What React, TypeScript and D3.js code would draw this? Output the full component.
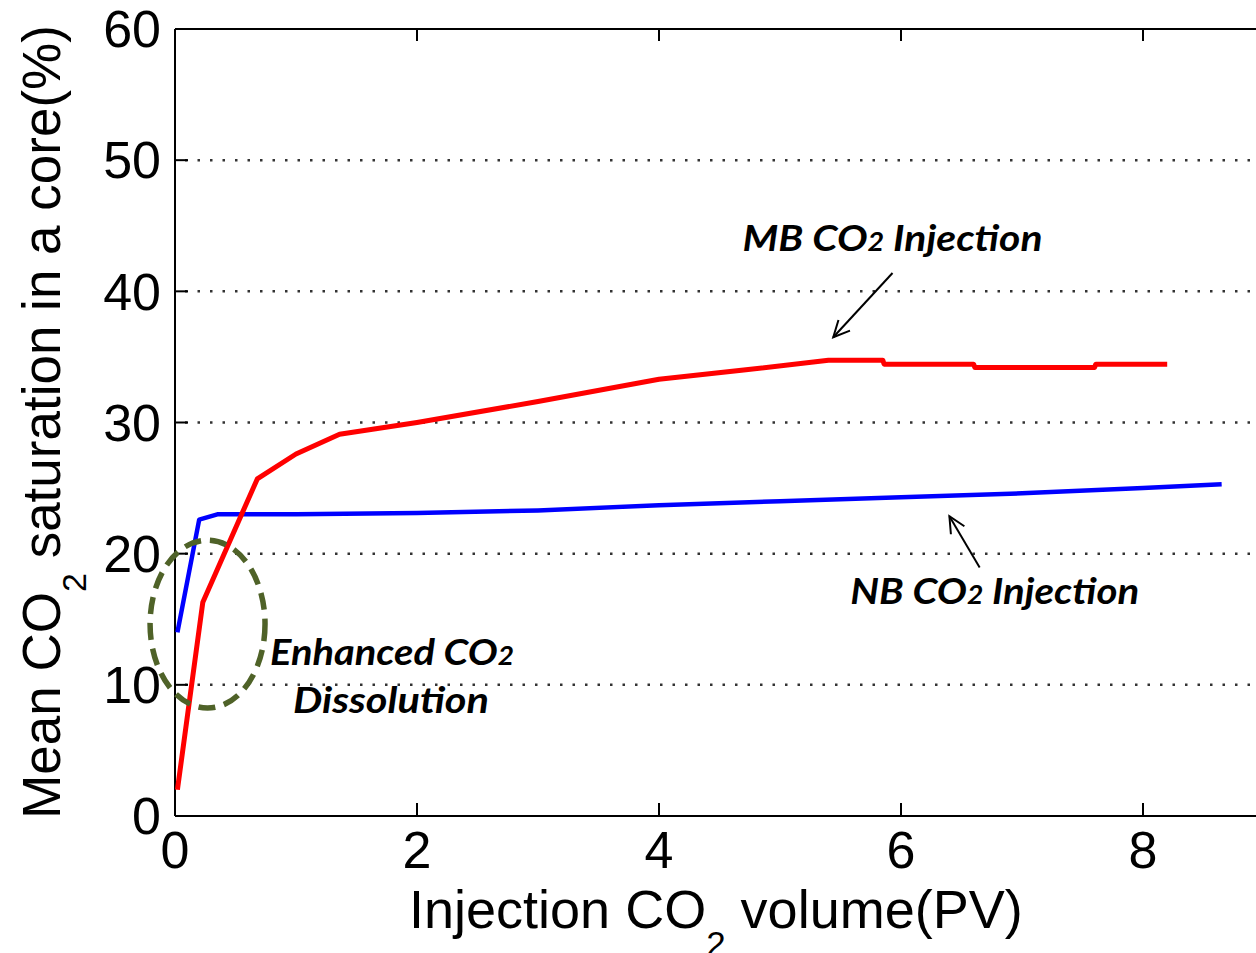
import React from "react";
import * as d3 from "d3";

// ---- data ----
const mbX = [0.02, 0.23, 0.68, 1.0, 1.36, 2.0, 3.0, 4.0, 4.7, 5.4, 5.85, 5.86, 6.6, 6.61, 7.6, 7.61, 8.2];
const mbY = [2.0, 16.3, 25.7, 27.6, 29.1, 30.0, 31.6, 33.3, 34.0, 34.75, 34.75, 34.45, 34.45, 34.2, 34.2, 34.45, 34.45];
const nbX = [0.02, 0.2, 0.35, 1.0, 2.0, 3.0, 4.0, 5.0, 6.0, 7.0, 8.0, 8.65];
const nbY = [14.0, 22.6, 23.0, 23.0, 23.1, 23.3, 23.7, 24.0, 24.3, 24.6, 25.0, 25.3];
const xTicks = [0, 2, 4, 6, 8];
const yTicks = [0, 10, 20, 30, 40, 50, 60];
const gridY = [10, 20, 30, 40, 50];

// annotations (data units)
const arrows = [
  { x1: 5.93, y1: 41.4, x2: 5.44, y2: 36.5 },
  { x1: 6.65, y1: 18.95, x2: 6.4, y2: 22.85 },
];
const labels = [
  { text: "MB CO", sub: "2", rest: " Injection", x: 4.69, y: 43.1, len: 300 },
  { text: "NB CO", sub: "2", rest: " Injection", x: 5.58, y: 16.2, len: 289 },
  { text: "Enhanced CO", sub: "2", rest: "", x: 0.785, y: 11.5, len: 244 },
  { text: "Dissolution", sub: "", rest: "", x: 0.975, y: 7.85, len: 196 },
];
const ellipse = { cx: 0.269, cy: 14.63, rx: 0.475, ry: 6.4 };

const W = 1256;
const H = 953;
const L = 175;
const T = 29;
const B = 816;

export default function App() {
  const x = d3.scaleLinear().domain([0, 10]).range([L, L + 1210]);
  const y = d3.scaleLinear().domain([0, 60]).range([B, T]);
  const line = d3
    .line<[number, number]>()
    .x((d) => x(d[0]))
    .y((d) => y(d[1]));
  const mb = mbX.map((v, i) => [v, mbY[i]] as [number, number]);
  const nb = nbX.map((v, i) => [v, nbY[i]] as [number, number]);
  const font = "'Liberation Sans', Arial, sans-serif";
  const aFont = "Lato, 'Open Sans', sans-serif";

  const arrowHead = (a: typeof arrows[0]) => {
    const X1 = x(a.x1), Y1 = y(a.y1), X2 = x(a.x2), Y2 = y(a.y2);
    const ang = Math.atan2(Y2 - Y1, X2 - X1);
    const len = 18, spread = 0.45;
    const p1 = [X2 - len * Math.cos(ang - spread), Y2 - len * Math.sin(ang - spread)];
    const p2 = [X2 - len * Math.cos(ang + spread), Y2 - len * Math.sin(ang + spread)];
    return `M${p1[0]},${p1[1]}L${X2},${Y2}L${p2[0]},${p2[1]}`;
  };

  return (
    <div style={{ position: "absolute", left: 0, top: 0 }}>
      <svg width={W} height={H} style={{ display: "block", background: "#fff" }}>
        <rect width={W} height={H} fill="#fff" />
        {/* grid */}
        {gridY.map((g) => (
          <line
            key={g}
            x1={L + 10}
            x2={W}
            y1={y(g)}
            y2={y(g)}
            stroke="#333"
            strokeWidth={2.5}
            strokeDasharray="2.5 10"
          />
        ))}
        {/* axes box */}
        <line x1={L} x2={L} y1={T} y2={B} stroke="#000" strokeWidth={2} />
        <line x1={L} x2={W} y1={B} y2={B} stroke="#000" strokeWidth={2} />
        <line x1={L} x2={W} y1={T} y2={T} stroke="#000" strokeWidth={2} />
        {/* y ticks */}
        {yTicks.map((t) => (
          <g key={t}>
            <line x1={L} x2={L + 13} y1={y(t)} y2={y(t)} stroke="#000" strokeWidth={2} />
            <text
              x={L - 14}
              y={y(t)}
              dy="0.35em"
              textAnchor="end"
              fontFamily={font}
              fontSize={52}
              fill="#000"
            >
              {t}
            </text>
          </g>
        ))}
        {/* x ticks */}
        {xTicks.map((t) => (
          <g key={t}>
            <line x1={x(t)} x2={x(t)} y1={B} y2={B - 13} stroke="#000" strokeWidth={2} />
            <line x1={x(t)} x2={x(t)} y1={T} y2={T + 12} stroke="#000" strokeWidth={2} />
            <text
              x={x(t)}
              y={868}
              textAnchor="middle"
              fontFamily={font}
              fontSize={52}
              fill="#000"
            >
              {t}
            </text>
          </g>
        ))}
        {/* axis titles */}
        <text x={409} y={928} fontFamily={font} fontSize={54} fill="#000">
          Injection CO
          <tspan fontSize={35} dy={28}>2</tspan>
          <tspan dy={-28}> volume(PV)</tspan>
        </text>
        <text
          transform={`translate(60,${422}) rotate(-90)`}
          textAnchor="middle"
          fontFamily={font}
          fontSize={53}
          fill="#000"
        >
          Mean CO
          <tspan fontSize={34} dy={26}>2</tspan>
          <tspan dy={-26}> saturation in a core(%)</tspan>
        </text>
        {/* series */}
        <path d={line(nb) || ""} fill="none" stroke="#0000ff" strokeWidth={4.5} strokeLinejoin="round" />
        <path d={line(mb) || ""} fill="none" stroke="#ff0000" strokeWidth={5} strokeLinejoin="round" />
        {/* ellipse */}
        <ellipse
          cx={x(ellipse.cx)}
          cy={y(ellipse.cy)}
          rx={x(ellipse.rx) - x(0)}
          ry={y(0) - y(ellipse.ry)}
          fill="none"
          stroke="#4f6228"
          strokeWidth={5.5}
          strokeDasharray="17 9"
        />
        {/* arrows */}
        {arrows.map((a, i) => (
          <g key={i} stroke="#000" strokeWidth={2} fill="none">
            <line x1={x(a.x1)} y1={y(a.y1)} x2={x(a.x2)} y2={y(a.y2)} />
            <path d={arrowHead(a)} />
          </g>
        ))}
        {/* labels */}
        {labels.map((l, i) => (
          <text
            key={i}
            x={x(l.x)}
            y={y(l.y)}
            fontFamily={aFont}
            fontWeight="bold"
            fontStyle="italic"
            fontSize={37}
            fill="#000"
            textLength={l.len}
            lengthAdjust="spacingAndGlyphs"
          >
            {l.text}
            {l.sub && <tspan fontSize={26}>{l.sub}</tspan>}
            {l.rest}
          </text>
        ))}
      </svg>
    </div>
  );
}
